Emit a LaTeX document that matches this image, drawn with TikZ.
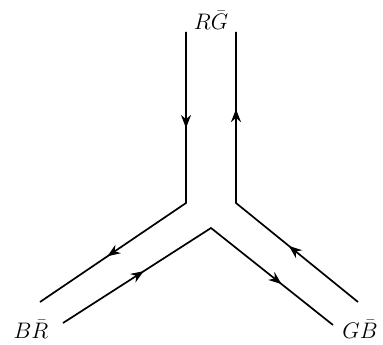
\documentclass[tikz,border=0pt]{standalone}
\usetikzlibrary{arrows.meta,decorations.markings}
\begin{document}
\begin{tikzpicture}[x=1pt,y=-1pt,
  line/.style={line width=1.7pt,line join=miter},
  arrowsat/.style 2 args={postaction={decorate},decoration={markings,
    mark=at position #1pt with {\arrow{Stealth[length=13pt,width=10pt]}},
    mark=at position #2pt with {\arrow{Stealth[length=13pt,width=10pt]}}}},
  lab/.style={font=\LARGE,inner sep=0pt,scale=1.3}]
\useasboundingbox (0,0) rectangle (383,345);
% coordinates
\coordinate (lt) at (186,32);
\coordinate (lc) at (186,203);
\coordinate (le) at (40,302);
\coordinate (bs) at (63,323);
\coordinate (bc) at (211,228);
\coordinate (be) at (333,325);
\coordinate (rs) at (358,302);
\coordinate (rc) at (236,203);
\coordinate (rt) at (236,32);
% labels
\node[lab] (rg) at (211,20) {$R\bar G$};
\node[lab] (br) at (31,329) {$B\bar R$};
\node[lab] (gb) at (360,329) {$G\bar B$};
% lines
\draw[line,arrowsat={96}{266}] (lt) -- (lc) -- (le);
\draw[line,arrowsat={96}{266}] (bs) -- (bc) -- (be);
\draw[line,arrowsat={89}{251}] (rs) -- (rc) -- (rt);
\end{tikzpicture}
\end{document}
